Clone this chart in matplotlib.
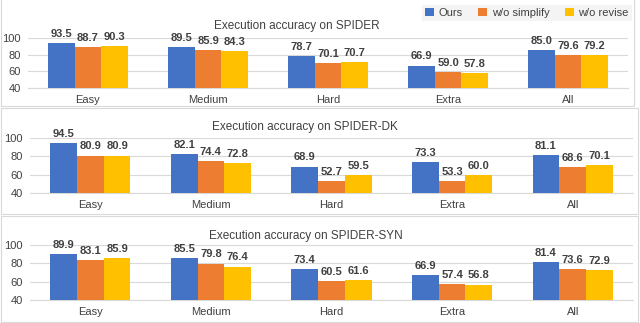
import numpy as np
import matplotlib.pyplot as plt
from matplotlib.patches import Rectangle

plt.rcParams['font.family'] = ['Liberation Sans', 'DejaVu Sans']

# %% Data

categories = ["Easy", "Medium", "Hard", "Extra", "All"]
series = ["Ours", "w/o simplify", "w/o revise"]
colors = ["#4472C4", "#ED7D31", "#FFC000"]

spider = [
    [93.5, 89.5, 78.7, 66.9, 85.0],   # Ours
    [88.7, 85.9, 70.1, 59.0, 79.6],   # w/o simplify
    [90.3, 84.3, 70.7, 57.8, 79.2],   # w/o revise
]
spider_dk = [
    [94.5, 82.1, 68.9, 73.3, 81.1],
    [80.9, 74.4, 52.7, 53.3, 68.6],
    [80.9, 72.8, 59.5, 60.0, 70.1],
]
spider_syn = [
    [89.9, 85.5, 73.4, 66.9, 81.4],
    [83.1, 79.8, 60.5, 57.4, 73.6],
    [85.9, 76.4, 61.6, 56.8, 72.9],
]

titles = ["Execution accuracy on SPIDER",
          "Execution accuracy on SPIDER-DK",
          "Execution accuracy on SPIDER-SYN"]
datasets = [spider, spider_dk, spider_syn]

# %% Layout (pixels in a 640x323 image)

W, H = 640, 323
# axes: left, right, top(y=100), bottom(y=40)
axes_px = [(28, 628, 38, 88), (30, 633, 138, 193), (30, 633, 245, 300)]
boxes_px = [(1, 634, -2, 106), (1, 638, 108, 214), (1, 638, 216, 322)]
title_px = [(297, 26), (305, 127), (306, 236)]

fig = plt.figure(figsize=(6.4, 3.23), dpi=100)

for (x0, x1, y0, y1) in boxes_px:
    fig.patches.append(Rectangle((x0 / W, 1 - y1 / H), (x1 - x0) / W, (y1 - y0) / H,
                                 transform=fig.transFigure, facecolor="none",
                                 edgecolor="#d9d9d9", linewidth=0.8, zorder=-1))

x = np.arange(len(categories))
bw = 0.222

for k, data in enumerate(datasets):
    l, r, t, b = axes_px[k]
    ax = fig.add_axes([l / W, 1 - b / H, (r - l) / W, (b - t) / H])
    ax.set_facecolor("none")
    for i, vals in enumerate(data):
        bars = ax.bar(x + (i - 1) * bw, vals, bw, bottom=0, color=colors[i],
                      label=series[i], zorder=3)
        for bar, v in zip(bars, vals):
            ax.annotate(f"{v:.1f}", (bar.get_x() + bar.get_width() / 2, v),
                        xytext=(0, 3), textcoords="offset points",
                        ha="center", va="bottom", fontsize=8,
                        color="#404040", fontweight="semibold",
                        annotation_clip=False)
    ax.set_ylim(40, 100)
    ax.set_xlim(-0.5, len(categories) - 0.5)
    ax.set_yticks([40, 60, 80, 100])
    ax.set_xticks(x)
    ax.set_xticklabels(categories)
    ax.tick_params(length=0, labelsize=8, labelcolor="#404040")
    ax.tick_params(axis="y", pad=5)
    ax.tick_params(axis="x", pad=5)
    ax.grid(axis="y", color="#d9d9d9", linewidth=0.8, zorder=0)
    for s in ["top", "right", "left"]:
        ax.spines[s].set_visible(False)
    ax.spines["bottom"].set_color("#d9d9d9")
    tx, ty = title_px[k]
    fig.text(tx / W, 1 - ty / H, titles[k], ha="center", va="center",
             fontsize=8.5, color="#404040")
    if k == 0:
        handles, labels = ax.get_legend_handles_labels()

leg = fig.legend(handles, labels, loc="center", bbox_to_anchor=(527 / W, 1 - 13 / H),
                 ncol=3, fontsize=8, frameon=True, fancybox=False,
                 handlelength=0.8, handleheight=0.8, handletextpad=0.4,
                 columnspacing=1.4, borderpad=0.3)
leg.get_frame().set_facecolor("#f2f2f2")
leg.get_frame().set_edgecolor("none")
for txt in leg.get_texts():
    txt.set_color("#404040")

fig.savefig("out.png", dpi=100)
